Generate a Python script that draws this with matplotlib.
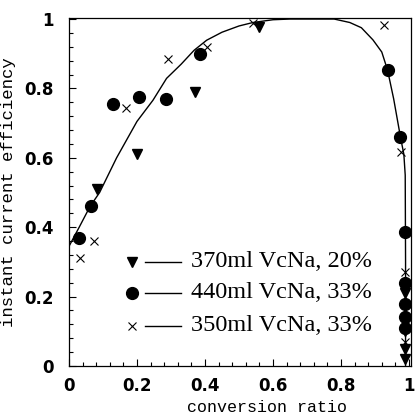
import matplotlib
matplotlib.use("Agg")
import matplotlib.pyplot as plt
from matplotlib.ticker import MultipleLocator

# 370ml VcNa, 20%
tri_x = [0.082, 0.20, 0.37, 0.56, 0.988, 0.988, 0.989, 0.989]
tri_y = [0.51, 0.61, 0.79, 0.977, 0.21, 0.10, 0.05, 0.02]
# 440ml VcNa, 33%
dot_x = [0.03, 0.065, 0.13, 0.205, 0.285, 0.385, 0.937, 0.975, 0.987, 0.988, 0.988, 0.988, 0.989]
dot_y = [0.37, 0.46, 0.755, 0.775, 0.77, 0.90, 0.853, 0.66, 0.385, 0.24, 0.18, 0.14, 0.11]
# 350ml VcNa, 33%
crs_x = [0.033, 0.074, 0.168, 0.29, 0.405, 0.54, 0.927, 0.978, 0.988, 0.988, 0.989]
crs_y = [0.31, 0.36, 0.745, 0.885, 0.92, 0.99, 0.983, 0.616, 0.27, 0.16, 0.07]

# fitted curve
fit_x = [0.0, 0.03, 0.062, 0.09, 0.14, 0.2, 0.247, 0.287, 0.33, 0.368, 0.405, 0.45,
         0.5, 0.541, 0.6, 0.65, 0.78, 0.826, 0.86, 0.894, 0.92, 0.937, 0.955, 0.975,
         0.985, 0.989, 0.990, 0.990]
fit_y = [0.345, 0.40, 0.46, 0.50, 0.60, 0.705, 0.766, 0.829, 0.87, 0.91, 0.939, 0.962,
         0.98, 0.99, 0.998, 1.0, 1.0, 0.99, 0.975, 0.94, 0.905, 0.853, 0.77, 0.66,
         0.61, 0.55, 0.30, 0.0]

labels = ["370ml VcNa, 20%", "440ml VcNa, 33%", "350ml VcNa, 33%"]

fig = plt.figure(figsize=(4.15, 4.19), dpi=100)
ax = fig.add_axes([69 / 415, 1 - 366 / 419, 342 / 415, 348 / 419])

ax.plot(fit_x, fit_y, color="black", lw=1.0)
ax.plot(tri_x, tri_y, "v", color="black", ms=7, ls="none")
ax.plot(dot_x, dot_y, "o", color="black", ms=8.5, ls="none")
ax.plot(crs_x, crs_y, "x", color="black", ms=5.5, mew=0.8, ls="none")

# legend: marker, short line, then text
styles = [dict(marker="v", ms=7), dict(marker="o", ms=8.5), dict(marker="x", ms=6, mew=0.8)]
rows = [0.30, 0.21, 0.115]
for lab, st, yy in zip(labels, styles, rows):
    ax.plot([0.184], [yy], color="black", ls="none", transform=ax.transAxes, **st)
    ax.plot([0.222, 0.328], [yy, yy], color="black", lw=1.0, transform=ax.transAxes)
    ax.text(0.356, yy, lab, transform=ax.transAxes, va="center", ha="left",
            family="Liberation Serif", fontsize=17.5)

ax.set_xlim(0, 1.006)
ax.set_ylim(0, 1.003)
ax.xaxis.set_minor_locator(MultipleLocator(0.04))
ax.yaxis.set_minor_locator(MultipleLocator(0.04))
ax.tick_params(which="both", direction="in", top=False, right=False)
ax.tick_params(which="major", length=5, width=0.8)
ax.tick_params(which="minor", length=3, width=0.8)

ax.set_xticks([0, 0.2, 0.4, 0.6, 0.8, 1.0])
ax.set_xticklabels(["0", "0.2", "0.4", "0.6", "0.8", "1"], fontsize=12, fontweight="bold")
ax.set_yticks([0, 0.2, 0.4, 0.6, 0.8, 1.0])
ax.set_yticklabels(["0", "0.2", "0.4", "0.6", "0.8", "1"], fontsize=12, fontweight="bold")
ax.tick_params(axis="x", pad=8)
ax.tick_params(axis="y", pad=11)

ax.set_xlabel("conversion ratio", family="Liberation Mono", fontsize=12)
ax.xaxis.set_label_coords(0.578, -0.098)
ax.set_ylabel("instant current efficiency", family="Liberation Mono", fontsize=12.5, labelpad=6)

for s in ax.spines.values():
    s.set_linewidth(0.9)

fig.savefig("out.png", dpi=100)
